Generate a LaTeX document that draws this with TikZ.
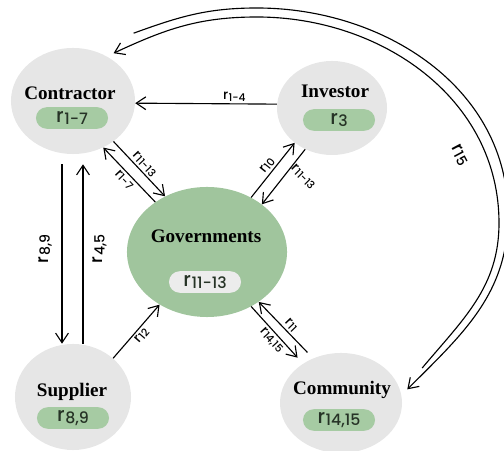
\documentclass[tikz,border=0pt]{standalone}
\usepackage{graphicx, amsmath, tikz}
\usepackage{fontspec}
\setmainfont{Liberation Serif}
\newfontfamily\rfont{Poppins}[UprightFont=* Medium]
\usetikzlibrary{shapes.geometric, arrows.meta}

\definecolor{circgray}{HTML}{E6E6E6}
\definecolor{govgreen}{HTML}{A0C59D}
\definecolor{pillgreen}{HTML}{A6CBA3}
\definecolor{pillgray}{HTML}{ECECEC}
\definecolor{pilltext}{HTML}{263326}

\newcommand{\rsub}[1]{r\kern.03em\raisebox{-.1em}{\scalebox{.8}{#1}}}

\begin{document}
\begin{tikzpicture}[x=0.025cm, y=0.025cm,
    actor/.style={ellipse, fill=circgray, inner sep=0pt},
    title/.style={font=\bfseries\fontsize{13.6}{16}\selectfont},
    pill/.style={rectangle, rounded corners=0.27cm, fill=pillgreen, minimum width=1.8cm,
        minimum height=0.54cm, inner sep=0pt, text=pilltext, font=\rfont\fontsize{14}{16}\selectfont},
    rlab/.style={font=\rfont\fontsize{9.5}{11}\selectfont, inner sep=1.5pt},
    rlabbig/.style={font=\rfont\fontsize{12.5}{14}\selectfont, inner sep=2pt},
    link/.style={line width=0.8pt, -{Straight Barb[length=2.4mm, width=3.2mm]}}]
    \useasboundingbox (0,0) rectangle (504,451);

    % Draw nodes
    \node[actor, minimum width=3.1cm, minimum height=2.65cm] (contractor) at (73,350) {};
    \node[actor, minimum width=2.75cm, minimum height=2.35cm] (investor) at (332,343) {};
    \node[actor, fill=govgreen, minimum width=4cm, minimum height=3.25cm] (gov) at (207,199) {};
    \node[actor, minimum width=2.9cm, minimum height=2.65cm] (supplier) at (73,54) {};
    \node[actor, minimum width=3.05cm, minimum height=2.5cm] (community) at (341,48) {};

    \node[title] (contractortitle) at (70,358) {Contractor};
    \node[title] (investortitle) at (335,360) {Investor};
    \node[title] (govtitle) at (206,215) {Governments};
    \node[title] (suppliertitle) at (72,59) {Supplier};
    \node[title] (communitytitle) at (342,61) {Community};

    \node[pill] (contractorr) at (72,333) {\rsub{1-7}};
    \node[pill] (investorr) at (339,331) {\rsub{3}};
    \node[pill, fill=pillgray] (govr) at (205,169) {\rsub{11-13}};
    \node[pill] (supplierr) at (73,33) {\rsub{8,9}};
    \node[pill] (communityr) at (339,31) {\rsub{14,15}};

    % Draw connections
    \draw[link] (investor.176) -- node[rlab, pos=0.3, above] {\rsub{1-4}} (contractor.-2);
    \draw[link] (contractor.-45) -- node[rlab, midway, sloped, above] {\rsub{11-13}} (gov.127);
    \draw[link] (gov.136) -- node[rlab, midway, sloped, below] {\rsub{1-7}} (contractor.-57);
    \draw[link] (gov.51) -- node[rlab, midway, sloped, above] {\rsub{10}} (investor.223);
    \draw[link] (investor.237) -- node[rlab, midway, xshift=14pt, rotate=-45] {\rsub{11-13}} (gov.41);
    \draw[link, shorten <=0.25cm] ([xshift=-0.275cm]contractor.south)
        -- node[rlabbig, midway, xshift=-12pt, rotate=90] {\rsub{8,9}} ([xshift=-0.275cm]supplier.north);
    \draw[link, shorten >=0.25cm] ([xshift=0.25cm]supplier.north)
        -- node[rlabbig, midway, xshift=12pt, rotate=90] {\rsub{4,5}} ([xshift=0.25cm]contractor.south);
    \draw[link] (supplier.44) -- node[rlab, midway, sloped, below] {\rsub{12}} (gov.228);
    \draw[link, shorten <=0.2cm] (community.122) -- node[rlab, midway, sloped, above] {\rsub{11}} (gov.-44);
    \draw[link, shorten >=0.2cm] (gov.-51) -- node[rlab, midway, sloped, below] {\rsub{14,15}} (community.134);

    % Outer arcs
    \coordinate (innerpeak) at (257,434);
    \coordinate (innerside) at (499,228);
    \coordinate (outerpeak) at (257,443);
    \coordinate (outerside) at (508,236);
    \draw[link] ([shift={(31,6)}]community.30) to[out=50,in=-90] (innerside)
        to[out=90,in=0] (innerpeak) to[out=180,in=25] ([shift={(13,0)}]contractor.60);
    \draw[link] ([shift={(33,20)}]contractor.60) to[out=20,in=180] (outerpeak)
        to[out=0,in=90] (outerside) to[out=-90,in=45] ([shift={(8,-2)}]community.15);

    % Labels
    \node[rlabbig, rotate=-62] (r15) at (460,296) {\rsub{15}};
    \node[rlabbig, rotate=-60] (r12) at (514,308) {\rsub{12}};
\end{tikzpicture}
\end{document}
